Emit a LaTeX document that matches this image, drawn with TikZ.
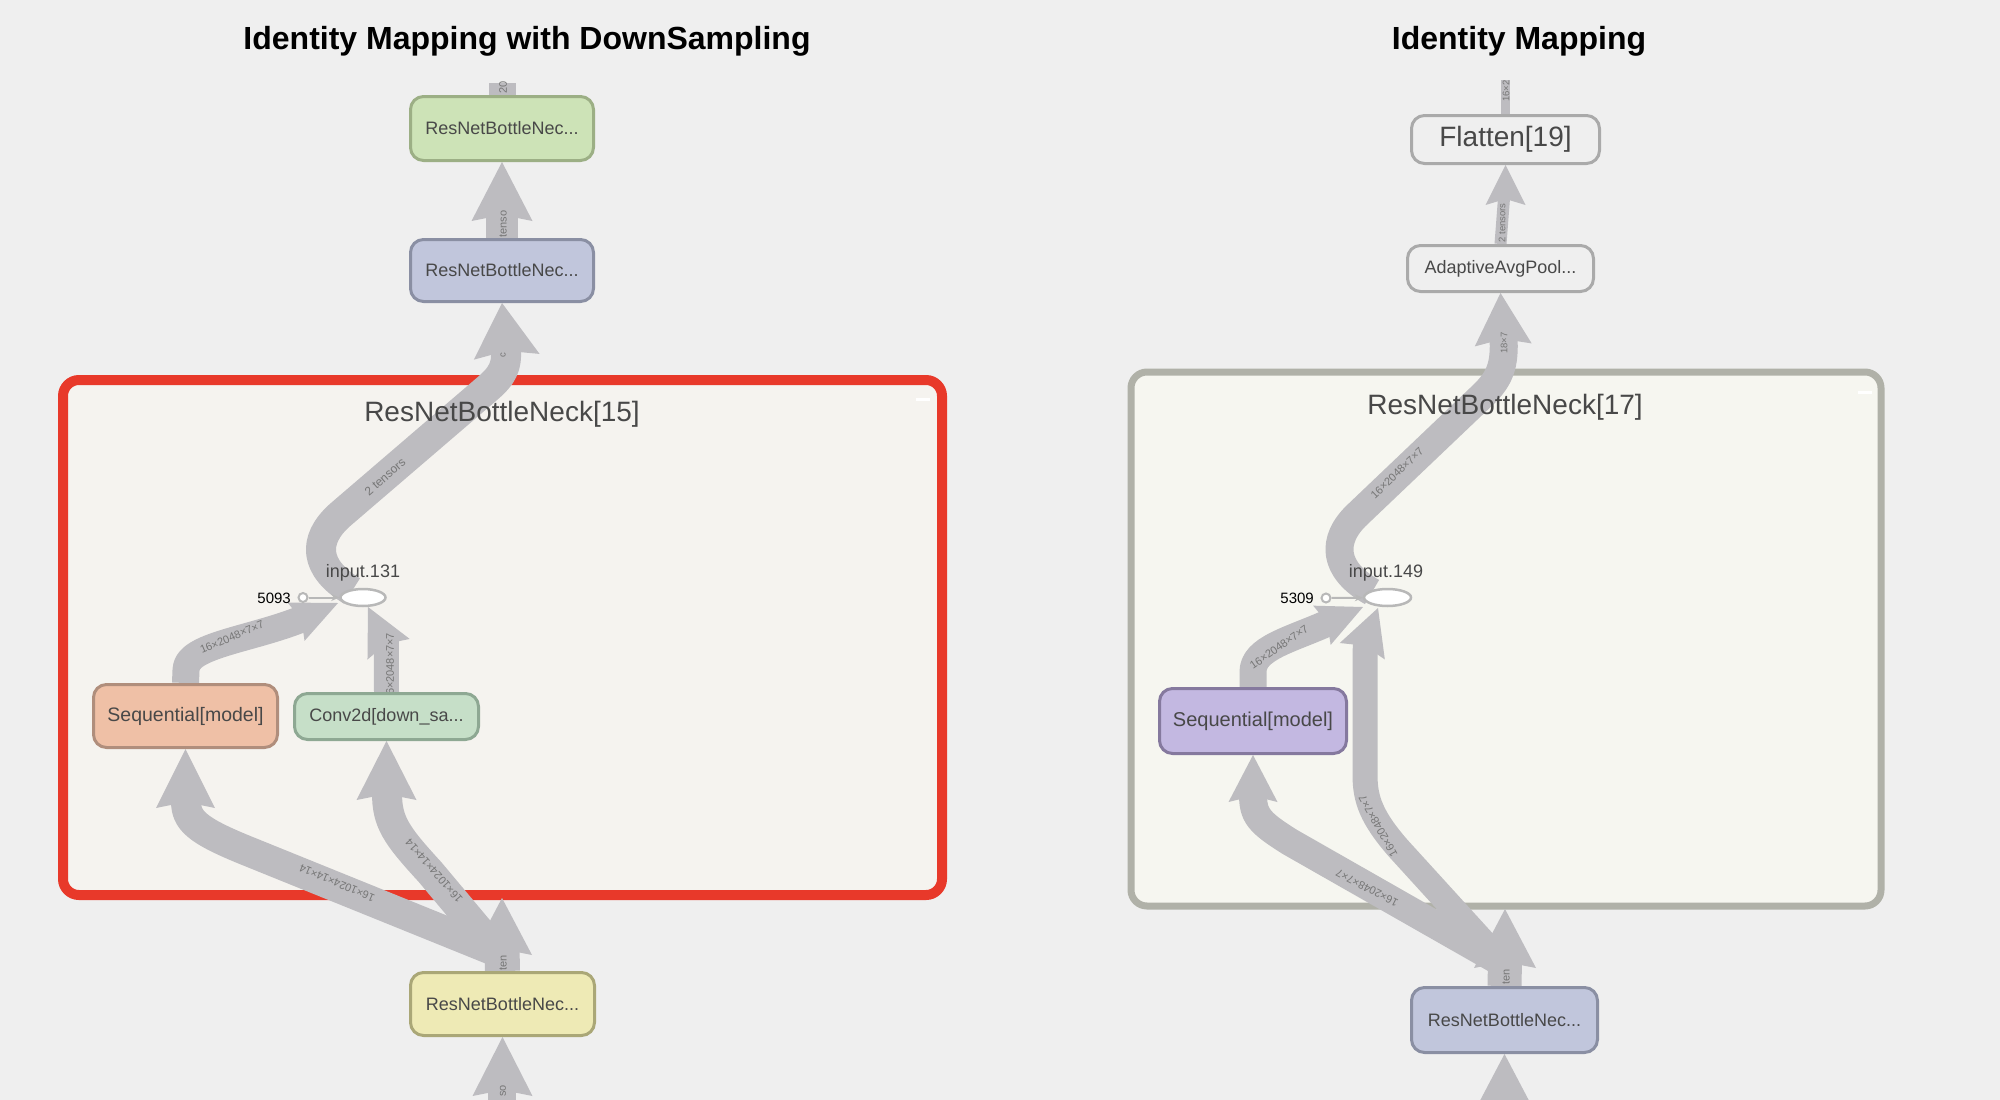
\documentclass[tikz,border=0pt]{standalone}
\usepackage{fontspec}
\setmainfont{Liberation Sans}
\usetikzlibrary{shapes.geometric,arrows.meta,calc}
\pgfdeclarelayer{back}
\pgfdeclarelayer{bandl}
\pgfsetlayers{back,bandl,main}
\definecolor{bgc}{HTML}{EFEFEF}
\definecolor{bandc}{HTML}{BDBCC0}
\definecolor{lblc}{HTML}{767676}
\definecolor{txtc}{HTML}{484848}
\definecolor{redc}{HTML}{E8392A}
\definecolor{clLfill}{HTML}{F5F3EF}
\definecolor{clRfill}{HTML}{F6F6F0}
\definecolor{clRdraw}{HTML}{B0B1A8}
\definecolor{gfill}{HTML}{CDE3B7}
\definecolor{gdraw}{HTML}{9CAF85}
\definecolor{bfill}{HTML}{C1C6DC}
\definecolor{bdraw}{HTML}{8A8FA3}
\definecolor{ofill}{HTML}{EFC0A6}
\definecolor{odraw}{HTML}{B08E7C}
\definecolor{cfill}{HTML}{C6DFC8}
\definecolor{cdraw}{HTML}{8EA893}
\definecolor{yfill}{HTML}{EEEAB5}
\definecolor{ydraw}{HTML}{AAA777}
\definecolor{pfill}{HTML}{C3B8E1}
\definecolor{pdraw}{HTML}{85799E}
\definecolor{flatd}{HTML}{AAAAAA}
\definecolor{elld}{HTML}{B8B8B8}
\tikzset{
  pics/ahead/.style 2 args={code={\fill[bandc] (0,0) -- (-#1,-#2/2) -- (-#1+6,0) -- (-#1,#2/2) -- cycle;}},
  band/.style={draw=bandc, line cap=butt, line join=round},
  nbox/.style={rectangle, rounded corners=13pt, line width=3pt, inner sep=0pt, text=txtc, font=\fontsize{18}{20}\selectfont},
  blab/.style={text=lblc, inner sep=0pt, font=\fontsize{11}{12}\selectfont},
  slab/.style={text=lblc, inner sep=0pt, font=\fontsize{9.5}{11}\selectfont},
  ttl/.style={font=\fontsize{32}{36}\selectfont\bfseries, text=black, inner sep=0pt},
  ctitle/.style={font=\fontsize{28}{32}\selectfont, text=txtc, inner sep=0pt, anchor=base},
  ell/.style={ellipse, draw=elld, fill=white, line width=2.5pt, inner sep=0pt},
  smallc/.style={circle, draw=elld, fill=white, line width=2pt, minimum size=9pt, inner sep=0pt},
  plainl/.style={inner sep=0pt, text=txtc, font=\fontsize{18}{20}\selectfont},
  numl/.style={inner sep=0pt, text=black, font=\fontsize{15}{17}\selectfont},
  thinl/.style={draw=elld, line width=2pt, -{Stealth[length=8pt,width=7pt]}}
}
\begin{document}
\begin{tikzpicture}[x=1pt,y=-1pt]
\begin{pgfonlayer}{back}
\fill[bgc] (0,0) rectangle (2000,1100);
\draw[redc, fill=clLfill, line width=10pt, rounded corners=16pt] (63,380) rectangle (942,895);
\draw[white, line width=3pt] (916,399) -- (930,399);
\draw[clRdraw, fill=clRfill, line width=7pt, rounded corners=16pt] (1131,372) rectangle (1881,906);
\draw[white, line width=3pt] (1858,392) -- (1872,392);
\end{pgfonlayer}
\useasboundingbox (0,0) rectangle (2000,1100);

% titles
\node[ttl] (tl) at (527,41) {Identity Mapping with DownSampling};
\node[ttl] (tr) at (1519,41) {Identity Mapping};
\node[ctitle] (cl) at (502,421) {ResNetBottleNeck[15]};
\node[ctitle] (cr) at (1505,414) {ResNetBottleNeck[17]};

% left nodes
\node[nbox, fill=gfill, draw=gdraw, minimum width=183pt, minimum height=64pt] (n1) at (502,128.5) {ResNetBottleNec...};
\node[nbox, fill=bfill, draw=bdraw, minimum width=183pt, minimum height=62pt] (n2) at (502,270.5) {ResNetBottleNec...};
\node[nbox, fill=ofill, draw=odraw, minimum width=184pt, minimum height=63pt, font=\fontsize{19.5}{22}\selectfont] (sl) at (185.5,716) {Sequential[model]};
\node[nbox, fill=cfill, draw=cdraw, minimum width=184pt, minimum height=46pt] (cv) at (386.5,716.5) {Conv2d[down\_sa...};
\node[nbox, fill=yfill, draw=ydraw, minimum width=184pt, minimum height=63pt] (yl) at (502.5,1004) {ResNetBottleNec...};
\node[ell, minimum width=45pt, minimum height=17pt] (e1) at (363,597.5) {};
\node[plainl] (i1) at (363,573) {input.131};
\node[numl, anchor=east] (k1) at (291,598) {5093};
\node[smallc] (c1) at (303,597.5) {};
\draw[thinl] (c1) -- (e1);

% right nodes
\node[nbox, fill=bgc, draw=flatd, minimum width=188pt, minimum height=48pt, font=\fontsize{28}{30}\selectfont] (fl) at (1505.5,139.5) {Flatten[19]};
\node[nbox, fill=bgc, draw=flatd, minimum width=186pt, minimum height=46pt] (ap) at (1500.5,268.5) {AdaptiveAvgPool...};
\node[nbox, fill=pfill, draw=pdraw, minimum width=187pt, minimum height=65pt, font=\fontsize{20}{22}\selectfont] (sr) at (1253,721) {Sequential[model]};
\node[nbox, fill=bfill, draw=bdraw, minimum width=186pt, minimum height=65pt] (br) at (1504.5,1020) {ResNetBottleNec...};
\node[ell, minimum width=47pt, minimum height=17pt] (e2) at (1387.5,597.5) {};
\node[plainl] (i2) at (1386,573) {input.149};
\node[numl, anchor=east] (k2) at (1314,598) {5309};
\node[smallc] (c2) at (1326,598) {};
\draw[thinl] (c2) -- (e2);

\begin{pgfonlayer}{bandl}
% ---- left bands
\coordinate (topL) at (502,83);
\draw[band, line width=27pt] (topL) -- (n1.north);
\draw[band, line width=32pt] (n2.north) -- (502,214);
\pic[rotate=90] at (n1.south) {ahead={59}{61}};
\draw[band, line width=30pt] (352,591) .. controls (314,568) and (312,540) .. (340,515) -- (488,388) .. controls (503,375) and (507,366) .. (506,349);
\pic[rotate=95] at (n2.south) {ahead={54}{66}};
\coordinate (t3) at (338,603);
\draw[band, line width=27pt] (sl.north) -- (186,670) .. controls (186,645) and (250,640) .. (303,618.5);
\pic[rotate=24] at (t3) {ahead={46}{42}};
\coordinate (t4) at (368,607);
\draw[band, line width=25pt] (cv.north) -- (386.3,640);
\pic[rotate=116] at (t4) {ahead={47}{47}};
\coordinate (lcb) at (502,898);
\draw[band, line width=35pt] (yl.north) -- (502,947);
\pic[rotate=90] at (lcb) {ahead={57}{60}};
\draw[band, line width=30pt] (497,952) -- (245,850) .. controls (196,830) and (186,820) .. (186,801);
\pic[rotate=90] at (sl.south) {ahead={59}{59}};
\draw[band, line width=30pt] (497,952) -- (430,872) .. controls (396,835) and (387,822) .. (387,793);
\pic[rotate=90] at (cv.south) {ahead={59}{60}};
\coordinate (botL) at (502,1115);
\draw[band, line width=28pt] (botL) -- (502,1089);
\pic[rotate=90] at (yl.south) {ahead={59}{60}};
% ---- right bands
\coordinate (topR) at (1505.5,80);
\draw[band, line width=9pt] (topR) -- (fl.north);
\draw[band, line width=12pt] (ap.north) -- (1504,198);
\pic[rotate=90] at (fl.south) {ahead={40}{40}};
\draw[band, line width=28pt] (1372,592) .. controls (1333,570) and (1330,540) .. (1358,514) -- (1484,394) .. controls (1500,378) and (1505,365) .. (1503.5,337);
\pic[rotate=93] at (ap.south) {ahead={52}{57}};
\coordinate (t9) at (1363,607);
\draw[band, line width=27pt] (sr.north) -- (1253,672) .. controls (1253,648) and (1290,640) .. (1329,622.5);
\pic[rotate=24] at (t9) {ahead={45}{43}};
\coordinate (t10) at (1378,608);
\draw[band, line width=25pt] (1500,960) -- (1398,848) .. controls (1372,818) and (1365,800) .. (1365,775) -- (1365,675) .. controls (1365,660) and (1365,652) .. (1365.5,642);
\pic[rotate=70] at (t10) {ahead={46}{48}};
\draw[band, line width=28pt] (1497,960) -- (1290,842) .. controls (1258,822) and (1253,815) .. (1253,794);
\pic[rotate=90] at (sr.south) {ahead={47}{49}};
\coordinate (rcb) at (1505,909);
\draw[band, line width=34pt] (br.north) -- (1505,960);
\pic[rotate=90] at (rcb) {ahead={59}{62}};
\coordinate (botR) at (1504.5,1125);
\draw[band, line width=30pt] (botR) -- (1504.5,1105);
\pic[rotate=90] at (br.south) {ahead={59}{62}};
% ---- labels
\node[blab, rotate=90] (la1) at (503,87) {20};
\node[blab, rotate=90] (la2) at (503,224) {tenso};
\node[blab, font=\fontsize{12}{13}\selectfont, rotate=41] (la3) at (385,477) {2 tensors};
\node[slab, rotate=90] (la4) at (503,355) {c};
\node[blab, rotate=23] (la5) at (232,637) {16×2048×7×7};
\node[blab, rotate=90] (la6) at (390,667) {16×2048×7×7};
\node[blab, rotate=90] (la7) at (503,963) {ten};
\node[blab, rotate=157] (la8) at (337,883) {16×1024×14×14};
\node[blab, rotate=131] (la9) at (434,871) {16×1024×14×14};
\node[blab, rotate=90] (la10) at (503,1091) {so};
\node[slab, rotate=90] (lb1) at (1506,91) {16×2};
\node[slab, rotate=90] (lb2) at (1502,223) {2 tensors};
\node[blab, rotate=44] (lb3) at (1397,473) {16×2048×7×7};
\node[slab, rotate=90] (lb4) at (1504,343) {18×7};
\node[blab, rotate=35] (lb5) at (1279,647) {16×2048×7×7};
\node[blab, rotate=119] (lb6) at (1378,826) {16×2048×7×7};
\node[blab, rotate=153] (lb7) at (1367,888) {16×2048×7×7};
\node[blab, rotate=90] (lb8) at (1506,977) {ten};
\end{pgfonlayer}
\end{tikzpicture}
\end{document}
